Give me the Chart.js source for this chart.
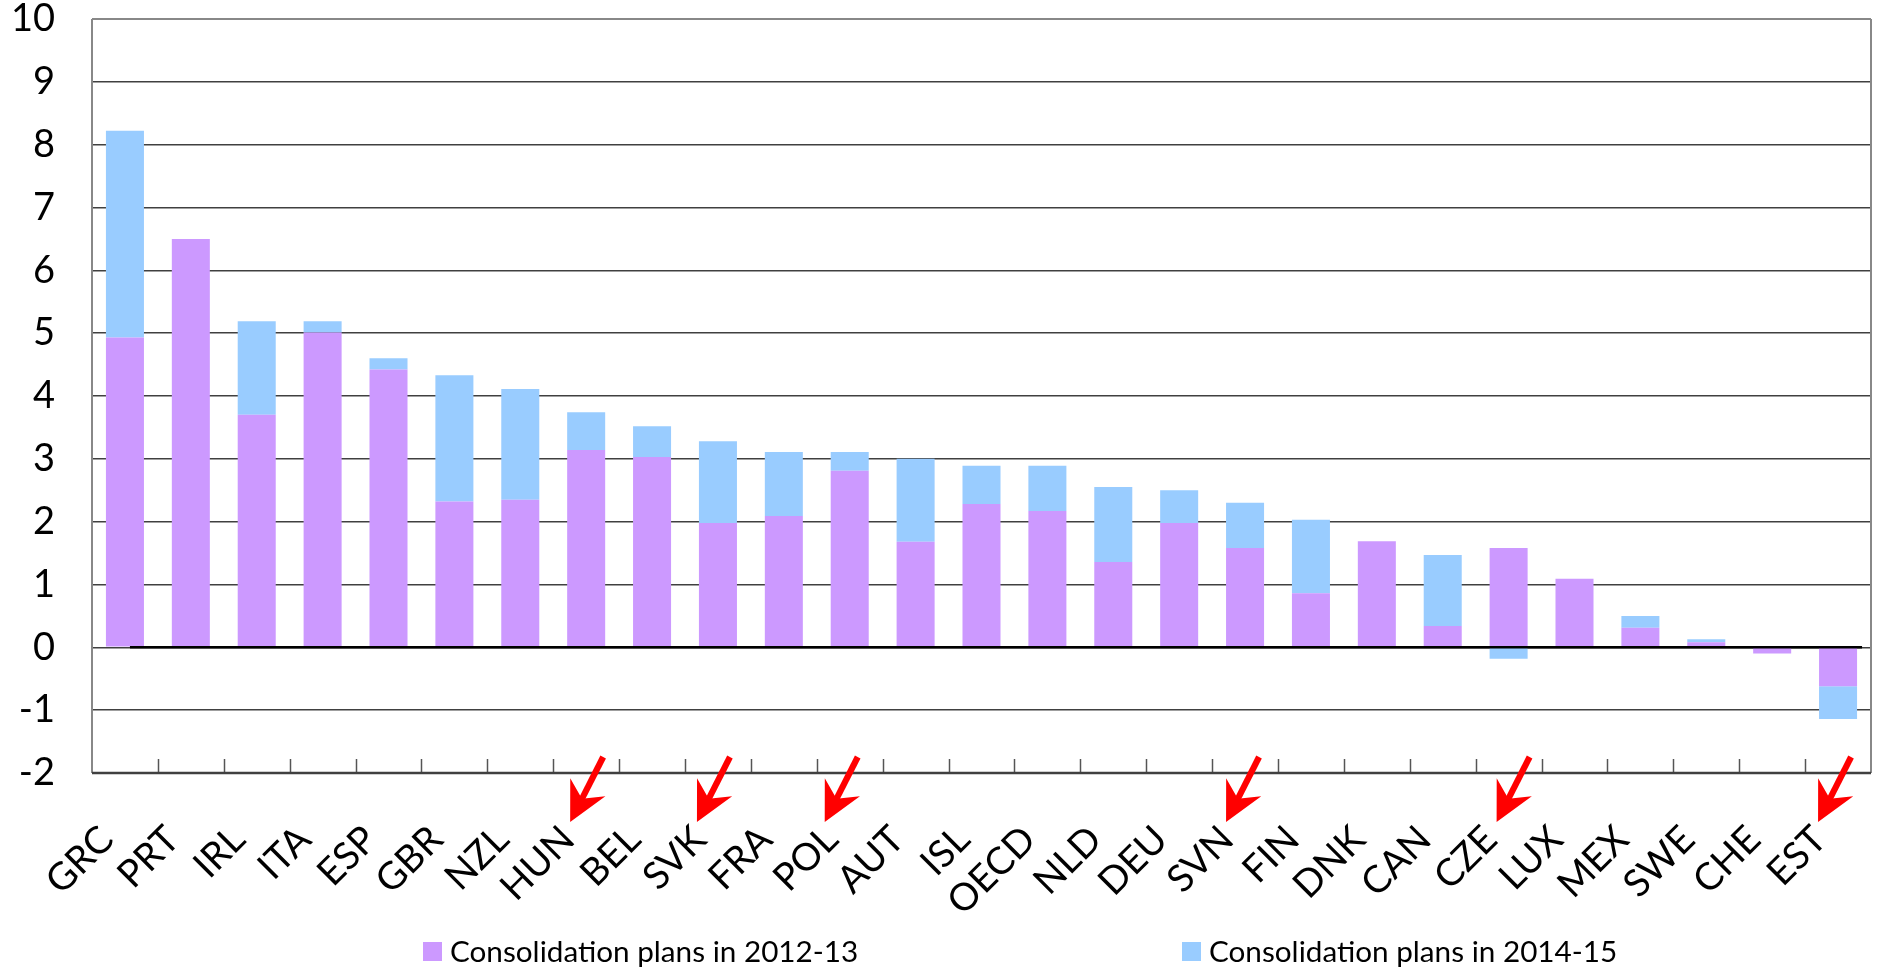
<!DOCTYPE html>
<html>
<head>
<meta charset="utf-8">
<script src="https://cdn.jsdelivr.net/npm/chart.js@4.4.0/dist/chart.umd.min.js"></script>
<style>
  html, body { margin: 0; padding: 0; background: #ffffff; }
  #wrap { width: 1877px; height: 968px; position: relative; }
</style>
</head>
<body>
<div id="wrap"><canvas id="chart" width="1877" height="968"></canvas></div>
<script>
// Countries, ordered by total planned consolidation
const countries = ['GRC','PRT','IRL','ITA','ESP','GBR','NZL','HUN','BEL','SVK','FRA','POL','AUT','ISL',
                   'OECD','NLD','DEU','SVN','FIN','DNK','CAN','CZE','LUX','MEX','SWE','CHE','EST'];

// Consolidation planned for 2012-13 (% of GDP)
const plans2012_13 = [4.93, 6.50, 3.70, 5.01, 4.42, 2.32, 2.35, 3.14, 3.03, 1.98, 2.09, 2.81, 1.68, 2.28,
                      2.17, 1.36, 1.98, 1.58, 0.86, 1.69, 0.34, 1.58, 1.09, 0.31, 0.08, -0.10, -0.62];

// Additional consolidation planned for 2014-15 (% of GDP)
const plans2014_15 = [3.29, 0.00, 1.49, 0.18, 0.18, 2.01, 1.76, 0.60, 0.49, 1.30, 1.02, 0.30, 1.32, 0.61,
                      0.72, 1.19, 0.52, 0.72, 1.17, 0.00, 1.13, -0.18, 0.00, 0.19, 0.05, 0.00, -0.52];

const seriesNames = ['Consolidation plans in 2012-13', 'Consolidation plans in 2014-15'];
const yTickValues = [-2, -1, 0, 1, 2, 3, 4, 5, 6, 7, 8, 9, 10];

// Countries highlighted with a red arrow, and the arrow's horizontal nudge from the category centre
const highlighted = [['HUN', 17], ['SVK', 12], ['POL', 8], ['SVN', 14], ['CZE', 21], ['EST', 13]];

const PURPLE = '#CC99FF';
const BLUE = '#99CCFF';
const FONT = 'Lato, "Open Sans", "Liberation Sans", sans-serif';
const CLEAR = 'rgba(0,0,0,0)';

// Plot frame, category tick marks, zero line, arrows and legend
const framePlugin = {
  id: 'frame',
  beforeDatasetsDraw(chart) {
    const { ctx, chartArea: a, scales: { x } } = chart;
    ctx.save();
    // category separators rising from the bottom axis
    ctx.strokeStyle = '#555555';
    ctx.lineWidth = 1.5;
    const n = countries.length;
    for (let i = 1; i < n; i++) {
      const px = Math.round(x.left + (x.right - x.left) * i / n) + 0.5;
      ctx.beginPath();
      ctx.moveTo(px, a.bottom);
      ctx.lineTo(px, a.bottom - 14);
      ctx.stroke();
    }
    ctx.restore();
  },
  afterDatasetsDraw(chart) {
    const { ctx, chartArea: a, scales: { x, y } } = chart;
    ctx.save();
    // left, top and right borders
    ctx.strokeStyle = '#888888';
    ctx.lineWidth = 2;
    ctx.beginPath();
    ctx.moveTo(a.left, a.top); ctx.lineTo(a.left, a.bottom);
    ctx.moveTo(a.right, a.top); ctx.lineTo(a.right, a.bottom);
    ctx.moveTo(a.left, a.top); ctx.lineTo(a.right, a.top);
    ctx.stroke();
    // bottom axis
    ctx.strokeStyle = '#404040';
    ctx.lineWidth = 2.5;
    ctx.beginPath();
    ctx.moveTo(a.left, a.bottom); ctx.lineTo(a.right, a.bottom);
    ctx.stroke();
    // zero line
    const y0 = y.getPixelForValue(0);
    ctx.strokeStyle = '#000000';
    ctx.lineWidth = 2.5;
    ctx.beginPath();
    ctx.moveTo(x.getPixelForValue(0) + 5, y0);
    ctx.lineTo(x.getPixelForValue(countries.length - 1) + 24, y0);
    ctx.stroke();
    ctx.restore();
  },
  afterDraw(chart) {
    const { ctx, chartArea: a, scales: { x } } = chart;
    ctx.save();
    // red arrows pointing at the highlighted country labels
    ctx.fillStyle = '#FF0000';
    highlighted.forEach(([code, dx]) => {
      const cx = x.getPixelForValue(countries.indexOf(code));
      const tx = cx + dx, ty = a.bottom - 16;        // tail
      const hx = tx - 33, hy = ty + 65;               // tip
      const len = Math.hypot(hx - tx, hy - ty);
      const ux = (hx - tx) / len, uy = (hy - ty) / len;
      const nx = -uy, ny = ux;
      const pt = (back, side) => [hx - ux * back + nx * side, hy - uy * back + ny * side];
      const w = 3.1;
      // shaft
      const s1 = [tx + nx * w, ty + ny * w], s2 = [tx - nx * w, ty - ny * w];
      const s3 = pt(24, -w), s4 = pt(24, w);
      ctx.beginPath();
      ctx.moveTo(s1[0], s1[1]); ctx.lineTo(s4[0], s4[1]);
      ctx.lineTo(s3[0], s3[1]); ctx.lineTo(s2[0], s2[1]);
      ctx.closePath(); ctx.fill();
      // head
      const b1 = pt(39, 19.7), b2 = pt(39, -19.7), notch = pt(26, 0);
      ctx.beginPath();
      ctx.moveTo(hx, hy); ctx.lineTo(b1[0], b1[1]);
      ctx.lineTo(notch[0], notch[1]); ctx.lineTo(b2[0], b2[1]);
      ctx.closePath(); ctx.fill();
    });
    // legend
    const colors = [PURPLE, BLUE];
    const boxX = [423, 1182];
    ctx.font = '29.7px ' + FONT;
    ctx.textBaseline = 'alphabetic';
    ctx.textAlign = 'left';
    seriesNames.forEach((name, i) => {
      ctx.fillStyle = colors[i];
      ctx.fillRect(boxX[i], 942, 19, 19);
      ctx.fillStyle = '#000000';
      ctx.fillText(name, boxX[i] + 27, 962);
    });
    ctx.restore();
  }
};

new Chart(document.getElementById('chart'), {
  type: 'bar',
  data: {
    labels: countries,
    datasets: [
      { label: seriesNames[0], data: plans2012_13, backgroundColor: PURPLE, borderWidth: 0 },
      { label: seriesNames[1], data: plans2014_15, backgroundColor: BLUE, borderWidth: 0 }
    ]
  },
  options: {
    responsive: false,
    animation: false,
    devicePixelRatio: 1,
    layout: { padding: { top: 19, right: 6, left: 0, bottom: 0 } },
    datasets: { bar: { categoryPercentage: 1.0, barPercentage: 0.577 } },
    plugins: { legend: { display: false }, tooltip: { enabled: false } },
    scales: {
      x: {
        stacked: true,
        grid: { display: true, drawOnChartArea: false, drawTicks: true, tickLength: 44, tickColor: CLEAR, color: CLEAR },
        border: { display: false },
        ticks: {
          autoSkip: false, minRotation: 45, maxRotation: 45, padding: 0, labelOffset: -18,
          color: '#000000', font: { family: FONT, size: 38 }
        },
        afterFit(s) { s.height = 195; }
      },
      y: {
        stacked: true,
        min: -2, max: 10,
        afterBuildTicks(s) { s.ticks = yTickValues.map(v => ({ value: v })); },
        grid: { color: '#404040', lineWidth: 1.5, drawTicks: true, tickLength: 37, tickColor: CLEAR },
        border: { display: false },
        ticks: {
          padding: 0, color: '#000000',
          font: { family: FONT, size: 38, lineHeight: 1 }
        },
        afterFit(s) { s.width = 92; }
      }
    }
  },
  plugins: [framePlugin]
});
</script>
</body>
</html>
